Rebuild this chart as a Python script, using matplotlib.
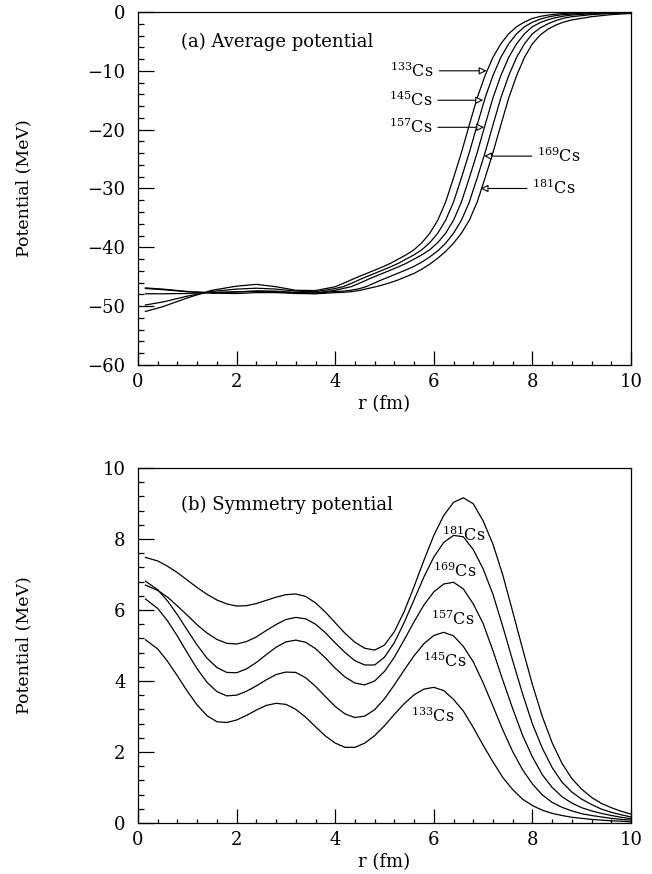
"""
Average and symmetry potentials for Cs isotopes, two stacked panels.
"""

import matplotlib
matplotlib.use("Agg")
import matplotlib.pyplot as plt

plt.rcParams["font.family"] = ["DejaVu Serif"]
plt.rcParams["mathtext.fontset"] = "dejavuserif"

isotopes = ["133", "145", "157", "169", "181"]

# (a) average potential, MeV
r_avg = [0.15, 0.5, 1.0, 1.5, 2.0, 2.4, 2.8, 3.2, 3.6,
         4.0, 4.16, 4.32, 4.48, 4.64, 4.8, 4.96, 5.12, 5.28, 5.44, 5.6, 5.76,
         5.92, 6.08, 6.24, 6.4, 6.56, 6.72, 6.88, 7.04, 7.2, 7.36, 7.52, 7.68,
         7.84, 8.0, 8.16, 8.32, 8.48, 8.64, 8.8, 9.2, 9.6, 10.0]
avg_133 = [-50.9, -50.1, -48.6, -47.3, -46.6, -46.3, -46.7, -47.3, -47.35,
           -46.7, -46.15, -45.55, -44.97, -44.43, -43.88, -43.33, -42.72, -42.0,
           -41.27, -40.4, -39.2, -37.6, -35.4, -32.3, -28.2, -23.9, -19.2, -14.6,
           -10.8, -7.7, -5.4, -3.7, -2.5, -1.7, -1.1, -0.75, -0.52, -0.37, -0.26,
           -0.18, -0.09, -0.05, -0.02]
avg_145 = [-49.8, -49.3, -48.3, -47.5, -47.1, -46.95, -47.1, -47.45, -47.55,
           -47.0, -46.7, -46.15, -45.55, -44.97, -44.43, -43.88, -43.33, -42.72,
           -42.0, -41.27, -40.4, -39.2, -37.6, -35.4, -32.3, -28.2, -23.9, -19.2,
           -14.6, -10.8, -7.7, -5.4, -3.7, -2.5, -1.75, -1.2, -0.85, -0.6, -0.45,
           -0.33, -0.17, -0.09, -0.04]
avg_157 = [-47.9, -47.9, -47.85, -47.7, -47.55, -47.5, -47.55, -47.7, -47.75,
           -47.3, -47.0, -46.7, -46.15, -45.55, -44.97, -44.43, -43.88, -43.33,
           -42.72, -42.0, -41.27, -40.4, -39.2, -37.6, -35.4, -32.3, -28.2, -23.9,
           -19.2, -14.6, -10.8, -7.7, -5.4, -3.7, -2.5, -1.8, -1.3, -0.95, -0.7,
           -0.52, -0.28, -0.15, -0.08]
avg_169 = [-47.0, -47.2, -47.55, -47.7, -47.6, -47.4, -47.45, -47.7, -47.8,
           -47.5, -47.45, -47.3, -47.05, -46.65, -46.05, -45.47, -44.93, -44.38,
           -43.83, -43.22, -42.5, -41.62, -40.6, -39.3, -37.6, -35.4, -32.3, -28.2,
           -23.9, -19.2, -14.6, -10.8, -7.7, -5.4, -3.7, -2.7, -2.0, -1.45, -1.05,
           -0.8, -0.45, -0.25, -0.15]
avg_181 = [-46.9, -47.1, -47.5, -47.8, -47.85, -47.7, -47.7, -47.85, -47.9,
           -47.7, -47.65, -47.55, -47.35, -47.05, -46.75, -46.4, -46.0, -45.53,
           -44.98, -44.43, -43.7, -42.85, -41.85, -40.7, -39.3, -37.6, -35.4, -32.3,
           -28.2, -23.9, -19.2, -14.6, -10.8, -7.7, -5.4, -3.9, -2.9, -2.2, -1.7,
           -1.35, -0.8, -0.45, -0.25]

# (b) symmetry potential, MeV
r_sym = [0.15, 0.4, 0.6, 0.8, 1.0, 1.2, 1.4, 1.6, 1.8, 2.0, 2.2, 2.4, 2.6, 2.8,
         3.0, 3.2, 3.4, 3.6, 3.8, 4.0, 4.2, 4.4, 4.6, 4.8, 5.0, 5.2, 5.4, 5.6,
         5.8, 6.0, 6.2, 6.4, 6.6, 6.8, 7.0, 7.2, 7.4, 7.6, 7.8, 8.0, 8.2, 8.4,
         8.6, 8.8, 9.0, 9.2, 9.4, 9.6, 9.8, 10.0]
sym_133 = [5.16, 4.90, 4.55, 4.14, 3.71, 3.32, 3.02, 2.85, 2.83, 2.90, 3.03, 3.18,
           3.31, 3.37, 3.34, 3.20, 2.98, 2.71, 2.45, 2.25, 2.13, 2.13, 2.25, 2.46,
           2.74, 3.06, 3.36, 3.61, 3.77, 3.82, 3.73, 3.48, 3.15, 2.69, 2.19, 1.72,
           1.28, 0.94, 0.67, 0.49, 0.36, 0.27, 0.21, 0.16, 0.13, 0.10, 0.08, 0.06,
           0.05, 0.03]
sym_145 = [6.31, 6.04, 5.69, 5.26, 4.79, 4.34, 3.96, 3.70, 3.58, 3.60, 3.71, 3.86,
           4.03, 4.18, 4.25, 4.24, 4.09, 3.85, 3.56, 3.28, 3.07, 2.97, 3.01, 3.19,
           3.50, 3.89, 4.31, 4.71, 5.05, 5.28, 5.37, 5.27, 4.97, 4.54, 3.95, 3.29,
           2.62, 2.01, 1.50, 1.10, 0.79, 0.58, 0.44, 0.34, 0.26, 0.21, 0.17, 0.13,
           0.10, 0.08]
sym_157 = [6.81, 6.57, 6.25, 5.86, 5.43, 5.01, 4.64, 4.38, 4.24, 4.23, 4.34, 4.52,
           4.74, 4.95, 5.10, 5.15, 5.09, 4.91, 4.65, 4.36, 4.11, 3.94, 3.89, 4.00,
           4.27, 4.67, 5.16, 5.67, 6.14, 6.51, 6.73, 6.78, 6.59, 6.17, 5.62, 4.85,
           4.02, 3.22, 2.47, 1.86, 1.36, 1.00, 0.74, 0.56, 0.43, 0.34, 0.27, 0.21,
           0.16, 0.12]
sym_169 = [6.70, 6.55, 6.36, 6.11, 5.85, 5.58, 5.35, 5.17, 5.06, 5.04, 5.11, 5.24,
           5.42, 5.59, 5.73, 5.79, 5.75, 5.60, 5.36, 5.07, 4.80, 4.57, 4.45, 4.45,
           4.67, 5.08, 5.65, 6.29, 6.93, 7.49, 7.90, 8.10, 8.06, 7.70, 7.16, 6.44,
           5.53, 4.57, 3.64, 2.79, 2.11, 1.56, 1.15, 0.87, 0.67, 0.52, 0.39, 0.30,
           0.23, 0.17]
sym_181 = [7.48, 7.38, 7.23, 7.05, 6.84, 6.63, 6.44, 6.28, 6.17, 6.11, 6.12, 6.18,
           6.27, 6.36, 6.43, 6.45, 6.38, 6.20, 5.94, 5.64, 5.34, 5.09, 4.92, 4.87,
           5.01, 5.39, 5.96, 6.66, 7.40, 8.10, 8.66, 9.03, 9.16, 8.99, 8.51, 7.85,
           6.98, 5.95, 4.91, 3.90, 3.00, 2.26, 1.68, 1.25, 0.95, 0.72, 0.55, 0.43,
           0.33, 0.25]

avg_curves = [avg_133, avg_145, avg_157, avg_169, avg_181]
sym_curves = [sym_133, sym_145, sym_157, sym_169, sym_181]

# label anchor and arrow tip for (a)
arrow_text = [(6.0, -10.0), (5.97, -15.0), (5.97, -19.6), (8.1, -24.5), (8.0, -30.0)]
arrow_tip = [(7.07, -10.0), (7.0, -15.0), (7.02, -19.6), (7.02, -24.5), (6.95, -30.0)]
# label right end / baseline for (b)
sym_label = [(6.43, 2.84), (6.67, 4.39), (6.82, 5.58), (6.87, 6.93), (7.05, 7.95)]


def style_axes(ax, ymin, ymax, ymajor, yminor):
    ax.set_xlim(0, 10)
    ax.set_ylim(ymin, ymax)
    ax.set_xticks(range(0, 11, 2))
    ax.set_xticks([i * 0.4 for i in range(26)], minor=True)
    ax.set_yticks(range(ymin, ymax + 1, ymajor))
    n = int(round((ymax - ymin) / yminor))
    ax.set_yticks([ymin + i * yminor for i in range(n + 1)], minor=True)
    ax.tick_params(which="both", direction="in", top=False, right=False,
                   labelsize=13, width=0.9)
    ax.tick_params(axis="x", which="major", length=10, pad=6)
    ax.tick_params(axis="x", which="minor", length=3)
    ax.tick_params(axis="y", which="major", length=11.5, pad=9)
    ax.tick_params(axis="y", which="minor", length=4.5)
    for sp in ax.spines.values():
        sp.set_linewidth(0.9)
    ax.set_xlabel("r (fm)", fontsize=13, labelpad=3)
    ax.set_ylabel("Potential (MeV)", fontsize=12.5)
    ax.yaxis.set_label_coords(-0.215, 0.5)


fig = plt.figure(figsize=(6.52, 8.74), dpi=100)
ax1 = fig.add_axes([0.2117, 0.5824, 0.7561, 0.4039])
ax2 = fig.add_axes([0.2117, 0.0584, 0.7561, 0.4062])

for ys in avg_curves:
    ax1.plot(r_avg, ys, color="black", lw=0.9)
style_axes(ax1, -60, 0, 10, 2)
ax1.text(0.88, -5.1, "(a) Average potential", fontsize=13, va="center")

for iso, (tx, ty), (hx, hy) in zip(isotopes, arrow_text, arrow_tip):
    ha = "right" if tx < hx else "left"
    ax1.annotate(r"$^{%s}$Cs" % iso, xy=(hx, hy), xytext=(tx, ty),
                 fontsize=11.5, ha=ha, va="center",
                 arrowprops=dict(arrowstyle="-|>", fc="white", ec="black",
                                 lw=0.8, mutation_scale=11, shrinkA=2, shrinkB=0))

for ys in sym_curves:
    ax2.plot(r_sym, ys, color="black", lw=0.9)
style_axes(ax2, 0, 10, 2, 0.4)
ax2.text(0.87, 8.97, "(b) Symmetry potential", fontsize=13, va="center")

for iso, (tx, ty) in zip(isotopes, sym_label):
    ax2.text(tx, ty, r"$^{%s}$Cs" % iso, fontsize=11.5, ha="right", va="baseline")

fig.savefig("out.png", dpi=100)
